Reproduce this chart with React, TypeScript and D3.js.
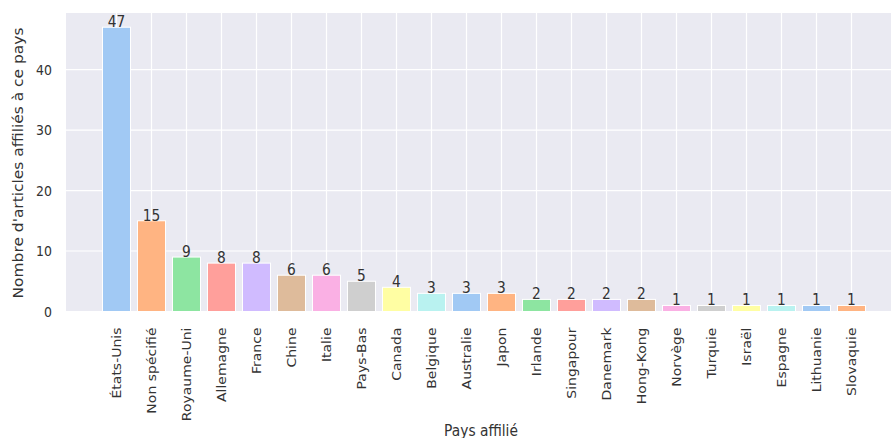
import React from "react";
import * as d3 from "d3";

const categories = ["États-Unis","Non spécifié","Royaume-Uni","Allemagne","France","Chine","Italie","Pays-Bas","Canada","Belgique","Australie","Japon","Irlande","Singapour","Danemark","Hong-Kong","Norvège","Turquie","Israël","Espagne","Lithuanie","Slovaquie"];
const values = [47,15,9,8,8,6,6,5,4,3,3,3,2,2,2,2,1,1,1,1,1,1];
const yTicks = [0,10,20,30,40];
const palette = ["#a1c9f4","#ffb482","#8de5a1","#ff9f9b","#d0bbff","#debb9b","#fab0e4","#cfcfcf","#fffea3","#b9f2f0"];

const W = 891, H = 438;
const left = 66, top = 13, bottom = 311.5;
const step = 35;
const xmin = -1.443, xmax = 22.443;

export default function App() {
  const x = d3.scaleLinear().domain([xmin, xmax]).range([left, left + (xmax - xmin) * step]);
  const y = d3.scaleLinear().domain([0, 49.35]).range([bottom, top]);
  const right = x(xmax);
  const font = "DejaVu Sans, sans-serif";
  const tc = "#333333";
  const sv = 1.12;
  const tickFs = 12.5;
  const labFs = 13.8;
  return (
    <svg width={W} height={H} style={{ position: "absolute", left: 0, top: 0, background: "#fff" }}>
      <rect x={left} y={top} width={right - left} height={bottom - top} fill="#eaeaf2" />
      {yTicks.map(t => (
        <line key={"gy" + t} x1={left} x2={right} y1={y(t)} y2={y(t)} stroke="#fff" strokeWidth={1.2} />
      ))}
      {categories.map((c, i) => (
        <line key={"gx" + i} x1={x(i)} x2={x(i)} y1={top} y2={bottom} stroke="#fff" strokeWidth={1.2} />
      ))}
      {categories.map((c, i) => (
        <rect key={"b" + i} x={x(i - 0.4)} y={y(values[i])} width={x(0.4) - x(-0.4)} height={y(0) - y(values[i])}
          fill={palette[i % palette.length]} stroke="#fff" strokeWidth={1} />
      ))}
      {categories.map((c, i) => (
        <text key={"v" + i} transform={`translate(${x(i)},${y(values[i])}) scale(1,${sv})`} textAnchor="middle" fontFamily={font} fontSize={labFs} fill={tc}>{values[i]}</text>
      ))}
      {yTicks.map(t => (
        <text key={"ty" + t} transform={`translate(${left - 14},${y(t)}) scale(1,${sv})`} dy="0.36em" textAnchor="end" fontFamily={font} fontSize={tickFs} fill={tc}>{t}</text>
      ))}
      {categories.map((c, i) => (
        <text key={"tx" + i} transform={`translate(${x(i)},${bottom + 16}) scale(1,${sv}) rotate(-90)`} textAnchor="end" dy="0.36em"
          fontFamily={font} fontSize={tickFs} fill={tc}>{c}</text>
      ))}
      <text transform={`translate(22.5,${(28 + 298) / 2}) scale(1,${sv}) rotate(-90)`} textAnchor="middle" fontFamily={font} fontSize={labFs} fill={tc}>Nombre d'articles affiliés à ce pays</text>
      <text transform={`translate(481,435.5) scale(1,${sv})`} textAnchor="middle" fontFamily={font} fontSize={labFs} fill={tc}>Pays affilié</text>
    </svg>
  );
}
